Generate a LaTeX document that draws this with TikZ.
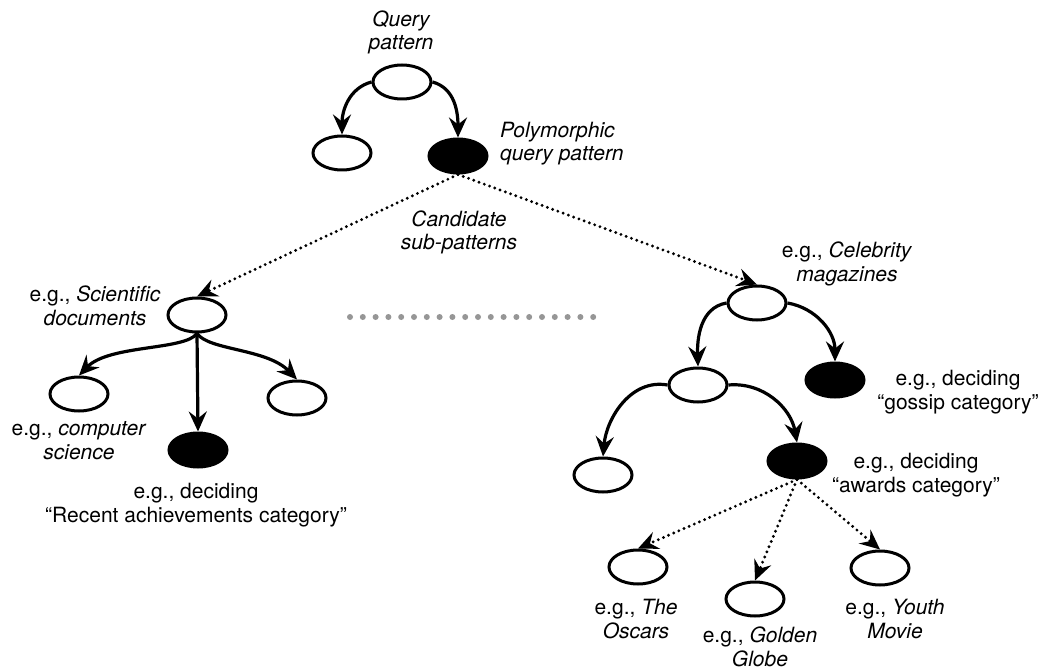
\documentclass[tikz,border=0pt]{standalone}
\usepackage{fontspec}
\setmainfont{TeX Gyre Heros}
\usetikzlibrary{arrows.meta,shapes.geometric}
\definecolor{dotgray}{RGB}{150,150,150}
\begin{document}
\begin{tikzpicture}[x=1pt,y=1pt,
  pat/.style={ellipse,draw,line width=3pt,minimum width=58pt,minimum height=34pt,inner sep=0pt},
  hit/.style={pat,fill=black},
  lbl/.style={font=\fontsize{21}{23.5}\selectfont,align=center,anchor=base,inner sep=0pt},
  lblit/.style={lbl,font=\fontsize{21}{23.5}\selectfont\itshape},
  tip/.style={-{Stealth[length=20pt,width=18pt,inset=7pt]}},
  link/.style={tip,line width=3.2pt},
  cand/.style={tip,line width=3.2pt,dash pattern=on 0pt off 5.6pt,line cap=round},
]
\useasboundingbox (0,0) rectangle (1039,-671);

% pattern nodes
\node[pat] (q0)  at (402,-82)  {};
\node[pat] (q1)  at (342,-153) {};
\node[hit] (pq)  at (458,-156) {};
\node[pat] (sd)  at (197,-315) {};
\node[pat] (cs)  at (79,-394)  {};
\node[pat] (sdr) at (297,-398) {};
\node[hit] (rac) at (198,-450) {};
\node[pat] (cm)  at (757,-303) {};
\node[pat] (cmm) at (698,-385) {};
\node[hit] (gos) at (835,-380) {};
\node[pat] (cml) at (603,-475) {};
\node[hit] (aw)  at (797,-461) {};
\node[pat] (osc) at (638,-567) {};
\node[pat] (gg)  at (755,-599) {};
\node[pat] (ym)  at (880,-568) {};

% labels (placed by the baseline of their last line)
\node[lblit] (tq) at (401,-50) {Query\\pattern};
\node[lblit,align=left,anchor=base west] (tpq) at (500,-161) {Polymorphic\\query pattern};
\node[lblit] (tcand) at (459,-250) {Candidate\\sub-patterns};
\node[lbl] (tsd) at (95,-325) {e.g., \textit{Scientific}\\\textit{documents}};
\node[lbl] (tcs) at (79,-459) {e.g., \textit{computer}\\\textit{science}};
\node[lbl] (trac) at (196,-522) {e.g., deciding\\“Recent achievements category”};
\node[lbl] (tcm) at (847,-281) {e.g., \textit{Celebrity}\\\textit{magazines}};
\node[lbl] (tgos) at (958,-409) {e.g., deciding\\“gossip category”};
\node[lbl] (taw) at (916,-492) {e.g., deciding\\“awards category”};
\node[lbl] (tosc) at (636,-638) {e.g., \textit{The}\\\textit{Oscars}};
\node[lbl] (tgg) at (760,-666) {e.g., \textit{Golden}\\\textit{Globe}};
\node[lbl] (tym) at (895,-638) {e.g., \textit{Youth}\\\textit{Movie}};

% refinement arrows
\draw[link] (q0.west) to[out=195,in=90] (q1.north);
\draw[link] (q0.east) to[out=-15,in=90] (pq.north);
\draw[link] (sd.south) .. controls +(-12,-17) and +(30,31) .. (cs.north);
\draw[link] (sd.south) -- (rac.north);
\draw[link] (sd.south) .. controls +(12,-17) and +(-30,31) .. (sdr.north);
\draw[link] (cm.west) to[out=190,in=92] (cmm.north);
\draw[link] (cm.east) to[out=-10,in=90] (gos.north);
\draw[link] (cmm.west) to[out=170,in=85] (cml.north);
\draw[link] (cmm.east) to[out=5,in=100] (aw.north);

% candidate sub-pattern arrows
\draw[cand] (pq.south) -- (sd.north);
\draw[cand] (pq.south) -- (cm.north);
\draw[cand] (aw.south) -- (osc.north);
\draw[cand] (aw.south) -- (gg.north);
\draw[cand] (aw.south) -- (ym.north);

% ellipsis between the two branches
\foreach \k in {0,...,19}
  \fill[dotgray] ({350+\k*12.8},-317) circle[radius=3];
\end{tikzpicture}
\end{document}
